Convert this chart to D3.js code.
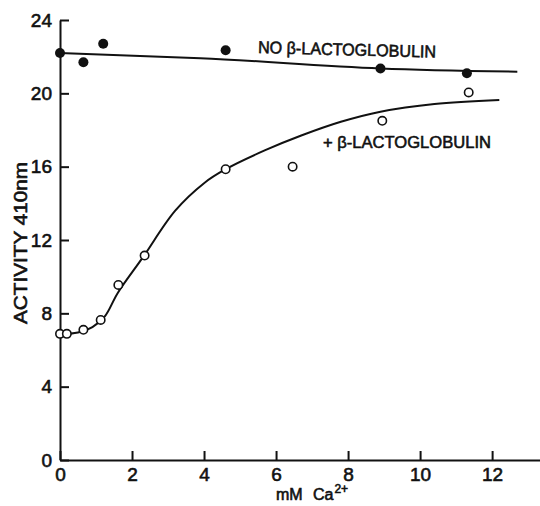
<!DOCTYPE html>
<html>
<head>
<meta charset="utf-8">
<script src="https://cdn.jsdelivr.net/npm/d3@7"></script>
<style>
  body { margin: 0; background: #fff; }
  text { font-family: "Liberation Sans", Arial, sans-serif; fill: #111; stroke: #111; stroke-width: 0.6px; }
</style>
</head>
<body>
<div id="chart"></div>
<script>
// measured points, mM Ca2+ vs activity
const noLgX = [0, 0.65, 1.2, 4.6, 8.9, 11.3];
const noLgY = [22.2, 21.7, 22.7, 22.35, 21.35, 21.1];
const plusLgX = [0, 0.19, 0.65, 1.13, 1.62, 2.35, 4.6, 6.46, 8.95, 11.35];
const plusLgY = [6.88, 6.88, 7.1, 7.64, 9.55, 11.15, 15.86, 16.0, 18.5, 20.05];

// hand-drawn fitted curves
const noLgFitX = [0, 3.9, 8.9, 12.7];
const noLgFitY = [22.2, 21.92, 21.36, 21.18];
const plusFitX = [0, 0.5, 0.9, 1.25, 1.6, 2.3, 3.2, 4.0, 4.6, 5.7, 6.7, 7.8, 8.9, 10.4, 12.2];
const plusFitY = [6.85, 6.95, 7.25, 7.85, 9.1, 11.05, 13.6, 15.1, 15.86, 16.9, 17.7, 18.45, 19.0, 19.42, 19.64];

const xTicks = [0, 2, 4, 6, 8, 10, 12];
const yTicks = [0, 4, 8, 12, 16, 20, 24];

const W = 540, H = 506;
const svg = d3.select("#chart").append("svg")
    .attr("width", W).attr("height", H);

const x = d3.scaleLinear().domain([0, 13.33]).range([60, 540]);
const y = d3.scaleLinear().domain([0, 24]).range([460, 20]);

const ink = "#111";

// axes
const xAxis = svg.append("g").attr("transform", "translate(0,460)")
    .call(d3.axisBottom(x).tickValues(xTicks).tickSize(-9).tickPadding(8).tickSizeOuter(0));
const yAxis = svg.append("g").attr("transform", "translate(60,0)")
    .call(d3.axisLeft(y).tickValues(yTicks).tickSize(-9).tickPadding(8).tickSizeOuter(0));

[xAxis, yAxis].forEach(g => {
    g.select(".domain").attr("stroke", ink).attr("stroke-width", 2);
    g.selectAll(".tick line").attr("stroke", ink).attr("stroke-width", 2);
    g.selectAll(".tick text").attr("fill", ink)
        .style("font-size", "19px").style("font-family", "Liberation Sans, Arial, sans-serif");
});
xAxis.selectAll(".tick text").attr("dy", "0.7em");
yAxis.selectAll(".tick text").attr("x", -8);

// fitted lines
const zip = (xs, ys) => xs.map((v, i) => [v, ys[i]]);

svg.append("path")
    .datum(zip(noLgFitX, noLgFitY))
    .attr("fill", "none").attr("stroke", ink).attr("stroke-width", 2)
    .attr("d", d3.line().x(d => x(d[0])).y(d => y(d[1])).curve(d3.curveMonotoneX));

svg.append("path")
    .datum(zip(plusFitX, plusFitY))
    .attr("fill", "none").attr("stroke", ink).attr("stroke-width", 2)
    .attr("d", d3.line().x(d => x(d[0])).y(d => y(d[1])).curve(d3.curveCatmullRom));

// points
svg.append("g").selectAll("circle")
    .data(zip(noLgX, noLgY))
    .join("circle")
    .attr("cx", d => x(d[0])).attr("cy", d => y(d[1]))
    .attr("r", 5).attr("fill", ink);

svg.append("g").selectAll("circle")
    .data(zip(plusLgX, plusLgY))
    .join("circle")
    .attr("cx", d => x(d[0])).attr("cy", d => y(d[1]))
    .attr("r", 4.2).attr("fill", "#fff").attr("stroke", ink).attr("stroke-width", 1.6);

// series labels
svg.append("text")
    .attr("transform", "translate(258,53) rotate(1.5)")
    .attr("textLength", 178).attr("lengthAdjust", "spacingAndGlyphs")
    .style("font-size", "17px")
    .text("NO β-LACTOGLOBULIN");

svg.append("text")
    .attr("x", 323).attr("y", 148)
    .attr("textLength", 168).attr("lengthAdjust", "spacingAndGlyphs")
    .style("font-size", "17px")
    .text("+ β-LACTOGLOBULIN");

// axis titles
svg.append("text")
    .attr("transform", "translate(27,243) rotate(-90)")
    .attr("text-anchor", "middle")
    .attr("textLength", 162).attr("lengthAdjust", "spacingAndGlyphs")
    .style("font-size", "18px")
    .text("ACTIVITY  410nm");

const xt = svg.append("text")
    .attr("x", 276).attr("y", 500)
    .style("font-size", "16px");
xt.append("tspan").text("mM ").attr("textLength", 31);
xt.append("tspan").attr("dx", 6).text("Ca");
xt.append("tspan").attr("dy", -7).attr("dx", 1).style("font-size", "12px").text("2+");
</script>
</body>
</html>
